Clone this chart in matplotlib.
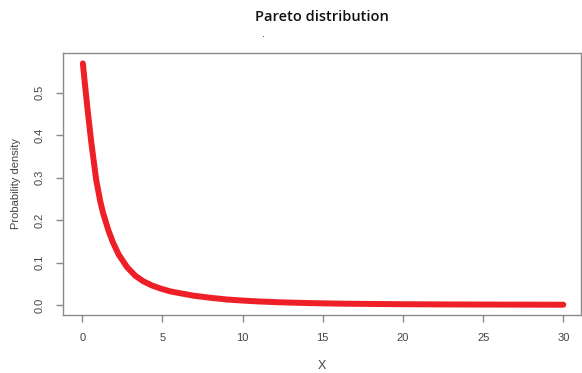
import matplotlib
matplotlib.use("Agg")
import matplotlib.pyplot as plt

# values
x_vals = [0.04, 0.21, 0.35, 0.56, 0.87, 1.12, 1.29, 1.64, 1.91, 2.27, 2.8, 3.31,
          3.8, 4.35, 4.87, 5.5, 6.22, 6.94, 8.0, 9.03, 10.0, 11.1, 12.5, 14.2,
          16.0, 18.0, 20.0, 22.5, 25.0, 27.5, 30.0]
y_vals = [0.569, 0.505, 0.455, 0.385, 0.295, 0.245, 0.218, 0.175, 0.148, 0.119, 0.089, 0.069,
          0.056, 0.046, 0.039, 0.032, 0.027, 0.022, 0.017, 0.013, 0.0105, 0.0082, 0.0062, 0.0045,
          0.0033, 0.0025, 0.0019, 0.0014, 0.0011, 0.0009, 0.0007]

x_ticks = [0, 5, 10, 15, 20, 25, 30]
y_ticks = [0.0, 0.1, 0.2, 0.3, 0.4, 0.5]

fig = plt.figure(figsize=(5.82, 3.73), dpi=100)
ax = fig.add_axes([0.1082, 0.1555, 0.89, 0.703])

ax.plot(x_vals, y_vals, color="#ee1f26", linewidth=4.3,
        solid_capstyle="round", solid_joinstyle="round")

ax.set_xlim(-1.2, 31.1)
ax.set_ylim(-0.0235, 0.594)
ax.set_xticks(x_ticks)
ax.set_yticks(y_ticks)
ax.set_xticklabels([str(t) for t in x_ticks])
ax.set_yticklabels([f"{t:.1f}" for t in y_ticks], rotation=90, va="center")

grey = "#8a8a8a"
for s in ax.spines.values():
    s.set_color(grey)
    s.set_linewidth(1.0)
ax.tick_params(direction="out", length=5, width=1, color=grey, labelcolor="#444444",
               labelsize=8, pad=8)
for lab in ax.get_xticklabels() + ax.get_yticklabels():
    lab.set_family("Liberation Sans")

ax.set_xlabel("X", fontsize=9, color="#444444", family="Liberation Sans", labelpad=12)
ax.set_ylabel("Probability density", fontsize=8, color="#444444", family="Liberation Sans",
              labelpad=10)

fig.text(0.553, 0.955, "Pareto distribution", ha="center", va="center",
         fontsize=10.5, family="Open Sans", weight="semibold", color="#111111")
fig.text(0.452, 0.91, ".", ha="center", va="center", fontsize=7, color="#333333")

fig.savefig("out.png", dpi=100)
